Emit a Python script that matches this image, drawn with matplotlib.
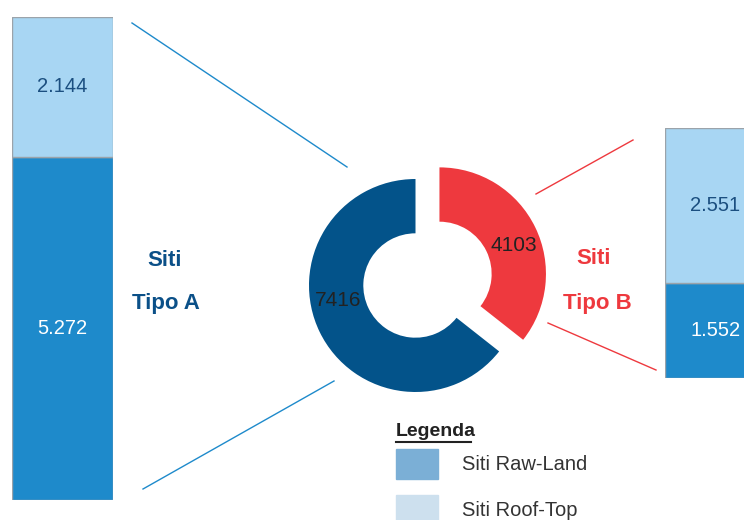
import matplotlib.pyplot as plt
from matplotlib.lines import Line2D
from matplotlib.patches import Rectangle

plt.rcParams['font.family'] = ['Liberation Sans', 'DejaVu Sans']

# data
groups = ['Siti Tipo A', 'Siti Tipo B']
totals = [7416, 4103]
raw_land = [5272, 1552]
roof_top = [2144, 2551]
raw_lbl = ['5.272', '1.552']
roof_lbl = ['2.144', '2.551']
legend_items = ['Siti Raw-Land', 'Siti Roof-Top']

W, H = 744, 520
fig = plt.figure(figsize=(W / 100, H / 100), dpi=100)


def px_axes(x0, y0, x1, y1):
    # pixel box (top-left origin) -> figure axes
    return fig.add_axes([x0 / W, 1 - y1 / H, (x1 - x0) / W, (y1 - y0) / H])


light = '#a8d6f3'
dark = '#1e8acb'
navy = '#03538a'
red = '#ee393e'

# stacked bars
for i, box in enumerate([(12, 17, 113, 500), (665, 128, 766, 378)]):
    ax = px_axes(*box)
    ax.bar(0, raw_land[i], width=1, color=dark, edgecolor='#9ba3aa', linewidth=1)
    ax.bar(0, roof_top[i], bottom=raw_land[i], width=1, color=light,
           edgecolor='#9ba3aa', linewidth=1)
    ax.text(0, raw_land[i] / 2, raw_lbl[i], ha='center', va='center',
            color='white', fontsize=14.5)
    ax.text(0, raw_land[i] + roof_top[i] / 2, roof_lbl[i], ha='center',
            va='center', color='#1b4f80', fontsize=14.5)
    ax.set_xlim(-0.5, 0.5)
    ax.set_ylim(0, totals[i])
    ax.axis('off')

# donut
cx, cy, R = 415.5, 285.5, 106.5
lim = 1.4
axd = px_axes(cx - R * lim, cy - R * lim, cx + R * lim, cy + R * lim)
axd.pie([totals[1], totals[0]], colors=[red, navy], startangle=90,
        counterclock=False, explode=[0.25, 0], radius=1,
        wedgeprops=dict(width=0.51, linewidth=0))
axd.set_xlim(-lim, lim)
axd.set_ylim(-lim, lim)
axd.set_aspect('equal')
axd.axis('off')
axd.text(-0.73, -0.14, str(totals[0]), ha='center', va='center',
         fontsize=15, color='#222222')
axd.text(0.925, 0.38, str(totals[1]), ha='center', va='center',
         fontsize=15, color='#222222')

# group titles
fig.text(165 / W, 1 - 260 / H, 'Siti', ha='center', va='center',
         fontsize=16, fontweight='bold', color='#0b5088')
fig.text(166 / W, 1 - 304 / H, 'Tipo A', ha='center', va='center',
         fontsize=16, fontweight='bold', color='#0b5088')
fig.text(594 / W, 1 - 258 / H, 'Siti', ha='center', va='center',
         fontsize=16, fontweight='bold', color=red)
fig.text(597 / W, 1 - 304 / H, 'Tipo B', ha='center', va='center',
         fontsize=16, fontweight='bold', color=red)

# connector lines
conn = [((132, 23), (347, 167), dark), ((143, 489), (334, 381), dark),
        ((536, 194), (633, 140), red), ((548, 323), (656, 370), red)]
for (x0, y0), (x1, y1), c in conn:
    fig.add_artist(Line2D([x0 / W, x1 / W], [1 - y0 / H, 1 - y1 / H],
                          color=c, linewidth=1, transform=fig.transFigure))

# legend
fig.text(396 / W, 1 - 431 / H, 'Legenda', ha='left', va='center',
         fontsize=14, fontweight='bold', color='#222222')
fig.add_artist(Line2D([396 / W, 471 / W], [1 - 442 / H, 1 - 442 / H],
                      color='#222222', linewidth=1.5, transform=fig.transFigure))
for j, (lab, col) in enumerate(zip(legend_items, ['#7bafd6', '#cde0ee'])):
    ytop = 449 + j * 46
    fig.add_artist(Rectangle((396 / W, 1 - (ytop + 30) / H), 42 / W, 30 / H,
                             color=col, transform=fig.transFigure))
    fig.text(462 / W, 1 - (ytop + 15) / H, lab, ha='left', va='center',
             fontsize=14.5, color='#333333')

fig.savefig('out.png', dpi=100)
